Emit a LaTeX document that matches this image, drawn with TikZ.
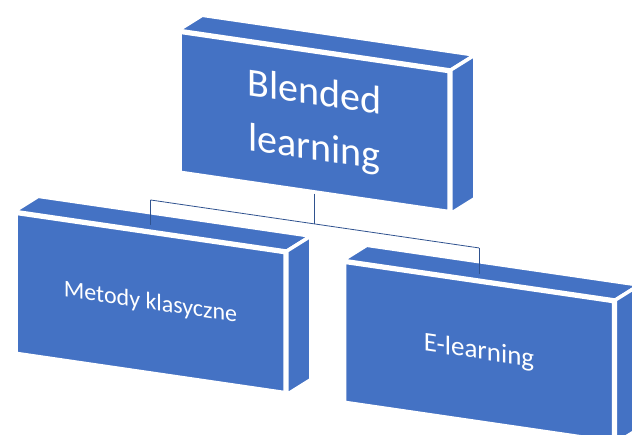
\documentclass[tikz,border=0pt]{standalone}
\usepackage{fontspec}
\setmainfont{Carlito}
\usetikzlibrary{calc}
\definecolor{boxblue}{RGB}{68,114,196}
\definecolor{linkblue}{RGB}{47,82,143}

\begin{document}
\begin{tikzpicture}
        [x=1pt,y=-1pt,
        blk/.style={shape=rectangle,draw=white,fill=boxblue,line width=3.5pt,
          minimum width=269pt,minimum height=140pt,inner sep=0pt,
          text=white,align=center,transform shape},
        face/.style={draw=white,fill=boxblue,line width=3.5pt,line join=round},
        conn/.style={draw=linkblue,line width=0.8pt}]
        \useasboundingbox (0,0) rectangle (632,435);
        \begin{scope}[yslant=-0.146]
        \node[blk,font=\fontsize{40}{55}\selectfont] (blend) at (314.5,76) {Blended\\learning};
        %%
        \node[blk,font=\fontsize{24}{29}\selectfont] (metody) at (150.5,281) {Metody klasyczne};
        \node[blk,font=\fontsize{27}{32}\selectfont] (elearn) at (479,282) {E-learning};
        %% top and side faces
        \foreach \n in {blend,metody,elearn}
        {
          \filldraw[face] (\n.north west) -- ($(\n.north west)+(24,-18.5)$)
            -- ($(\n.north east)+(24,-18.5)$) -- (\n.north east) -- cycle;
          \filldraw[face] (\n.north east) -- ($(\n.north east)+(24,-18.5)$)
            -- ($(\n.south east)+(24,-18.5)$) -- (\n.south east) -- cycle;
        }
        %% joints
        \coordinate (jb) at (314.5,178);
        \coordinate (jm) at (150.5,178);
        \coordinate (je) at (479,178);
        \coordinate (dm) at ($(metody.north)+(0,-6)$);
        \coordinate (de) at ($(elearn.north)+(0,-6)$);
        \path[conn]
        \foreach \startNode/\endNode in {blend.south/jb, jm/je, jm/dm, je/de}
        {
          (\startNode) edge (\endNode)
        };
        \end{scope}
\end{tikzpicture}
\end{document}
